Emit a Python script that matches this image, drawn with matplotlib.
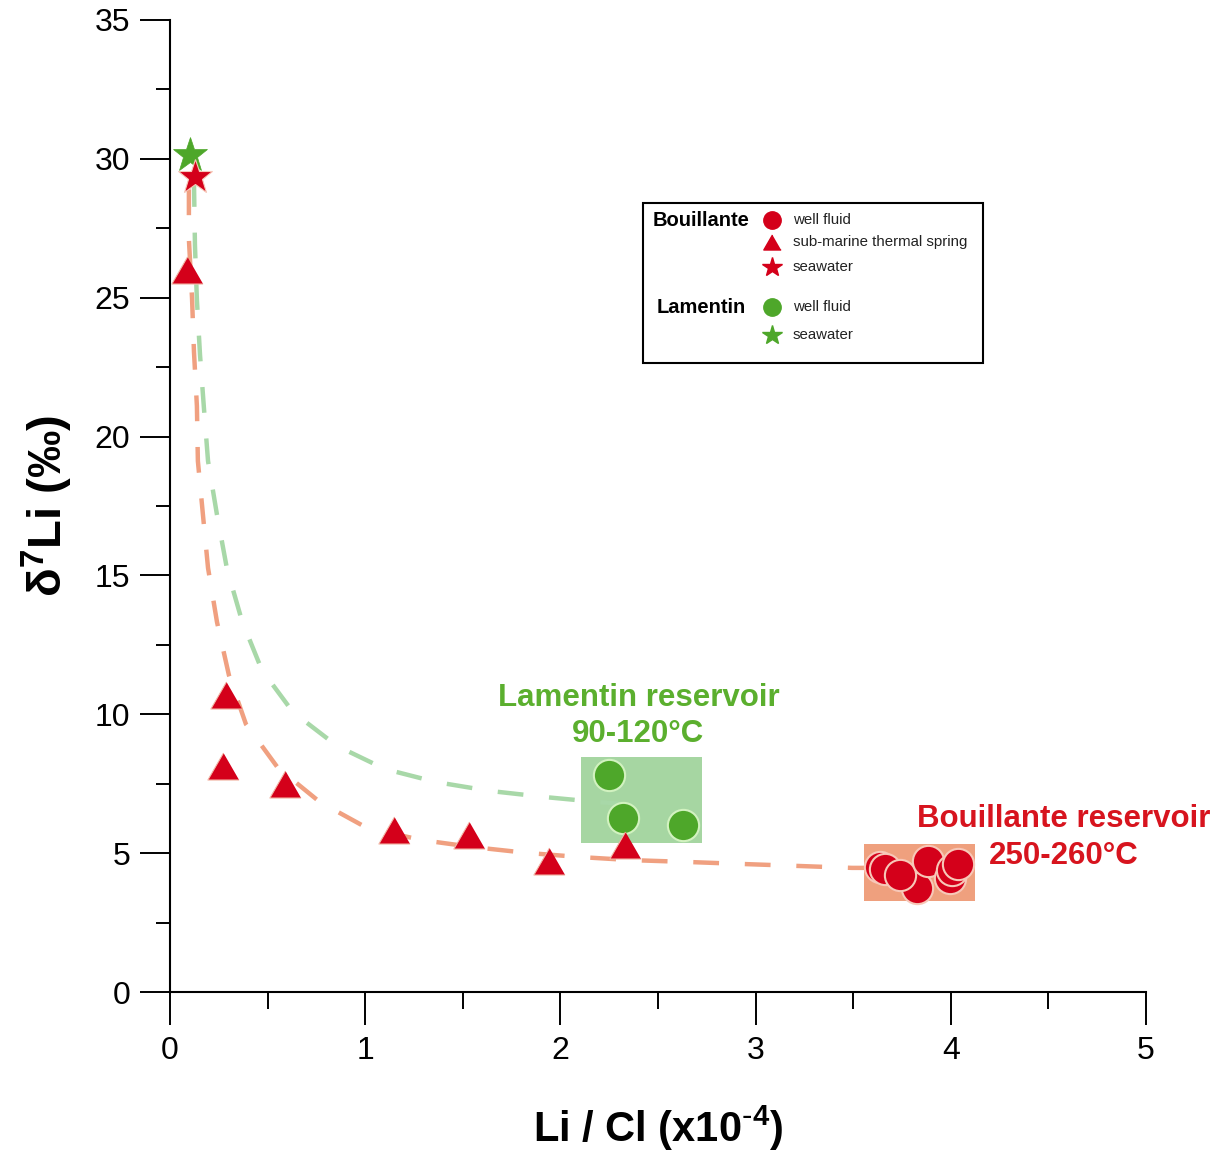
import matplotlib
matplotlib.use("Agg")
import matplotlib.pyplot as plt
from matplotlib import font_manager
from matplotlib.patches import Rectangle

# --- data ---------------------------------------------------------------
# Bouillante sub-marine thermal springs
spring_x = [0.087, 0.287, 0.27, 0.59, 1.15, 1.53, 1.94, 2.33]
spring_y = [26.0, 10.7, 8.15, 7.5, 5.85, 5.65, 4.7, 5.3]

# Bouillante well fluids (reservoir cluster)
bou_well_x = [3.637, 3.663, 3.827, 3.740, 3.883, 3.996, 4.006, 4.037]
bou_well_y = [4.50, 4.43, 3.74, 4.21, 4.72, 4.10, 4.39, 4.61]

# Lamentin well fluids
lam_well_x = [2.25, 2.32, 2.63]
lam_well_y = [7.8, 6.25, 6.0]

# seawater
bou_sea_x, bou_sea_y = [0.128], [29.35]
lam_sea_x, lam_sea_y = [0.105], [30.15]

# mixing curves (traced)
bou_mix_x = [0.097, 0.097, 0.113, 0.123, 0.138, 0.143, 0.169, 0.195, 0.241,
             0.302, 0.389, 0.553, 0.768, 1.009, 1.291, 1.552, 1.829, 2.100,
             2.362, 2.664, 2.935, 3.217, 3.494, 3.566]
bou_mix_y = [28.9, 27.1, 25.0, 23.05, 21.1, 19.12, 17.18, 15.27, 13.32,
             11.41, 9.65, 8.07, 6.84, 5.91, 5.47, 5.22, 5.01, 4.86,
             4.75, 4.68, 4.61, 4.54, 4.47, 4.47]
lam_mix_x = [0.123, 0.128, 0.138, 0.154, 0.174, 0.195, 0.241, 0.292, 0.369,
             0.471, 0.630, 0.856, 1.101, 1.363, 1.639, 1.921, 2.193, 2.413]
lam_mix_y = [29.2, 26.9, 24.92, 22.94, 21.03, 19.12, 17.18, 15.24, 13.36,
             11.59, 10.08, 8.86, 8.03, 7.56, 7.24, 7.02, 6.84, 6.73]

# reservoir boxes: (x0, x1, y0, y1)
lam_box = (2.105, 2.725, 5.37, 8.46)
bou_box = (3.555, 4.124, 3.28, 5.33)

RED = "#D4001A"
GREEN = "#4EA72A"

names = {f.name for f in font_manager.fontManager.ttflist}
narrow = "Liberation Sans Narrow" if "Liberation Sans Narrow" in names else "Liberation Sans"

plt.rcParams["font.family"] = ["Liberation Sans", "DejaVu Sans"]
plt.rcParams["mathtext.default"] = "regular"

fig = plt.figure(figsize=(12.14, 11.55), dpi=100)
ax = fig.add_axes([0.140, 0.1411, 0.804, 0.8416])

# boxes
ax.add_patch(Rectangle((lam_box[0], lam_box[2]), lam_box[1] - lam_box[0],
                       lam_box[3] - lam_box[2], facecolor="#A6D6A2",
                       edgecolor="none", zorder=1))
ax.add_patch(Rectangle((bou_box[0], bou_box[2]), bou_box[1] - bou_box[0],
                       bou_box[3] - bou_box[2], facecolor="#EFA07E",
                       edgecolor="none", zorder=1))

# mixing curves
ax.plot(lam_mix_x, lam_mix_y, color="#A8D8A8", lw=3.2, dashes=(5.8, 5.8),
        zorder=2)
ax.plot(bou_mix_x, bou_mix_y, color="#F0A080", lw=3.2, dashes=(5.8, 5.8),
        zorder=2)

tri = [(0, 0.866), (-1, -0.866), (1, -0.866)]

ax.plot(lam_well_x, lam_well_y, "o", ms=22.5, color=GREEN, mec="#D2F2C0",
        mew=1.5, zorder=3)
for x, y in zip(bou_well_x, bou_well_y):
    ax.plot(x, y, "o", ms=22.5, color=RED, mec="#F7C8B8", mew=1.5, zorder=3)
ax.plot(spring_x, spring_y, linestyle="none", marker=tri, ms=22.5, color=RED,
        mec="#F2B8A8", mew=0.8, zorder=4)
ax.plot(lam_sea_x, lam_sea_y, "*", ms=26, color=GREEN, mec=GREEN,
        mew=0.5, zorder=4)
ax.plot(bou_sea_x, bou_sea_y, "*", ms=26, color=RED, mec="#F7C8B8",
        mew=0.8, zorder=5)

# reservoir labels
ax.text(2.4, 9.94, "Lamentin reservoir\n90-120°C", color="#5BAF2E",
        fontsize=22.5, fontweight="bold", ha="center", va="center",
        linespacing=1.3)
ax.text(4.58, 5.58, "Bouillante reservoir\n250-260°C", color="#D7141E",
        fontsize=22.5, fontweight="bold", ha="center", va="center",
        linespacing=1.3, clip_on=False)

# legend drawn by hand
ax.add_patch(Rectangle((0.4846, 0.6471), 0.3484, 0.1646, transform=ax.transAxes,
                       facecolor="white", edgecolor="black", lw=1.5, zorder=6))
ax.text(0.4949, 0.7942, "Bouillante", transform=ax.transAxes, fontsize=14.5,
        fontweight="bold", va="center", zorder=7)
ax.text(0.4990, 0.7047, "Lamentin", transform=ax.transAxes, fontsize=14.5,
        fontweight="bold", va="center", zorder=7)
leg_rows = [
    (0.7942, "o", 12.5, RED, "well fluid"),
    (0.7716, tri, 12.5, RED, "sub-marine thermal spring"),
    (0.7459, "*", 15, RED, "seawater"),
    (0.7047, "o", 12.5, GREEN, "well fluid"),
    (0.6759, "*", 15, GREEN, "seawater"),
]
for ly, mk, ms, col, lab in leg_rows:
    ax.plot([0.6168], [ly], linestyle="none", marker=mk, ms=ms, color=col,
            transform=ax.transAxes, zorder=7, clip_on=False)
    ax.text(0.6383, ly, lab, transform=ax.transAxes, fontsize=10.8,
            va="center", color="#222222", zorder=7)

# axes styling
ax.set_xlim(0, 5)
ax.set_ylim(0, 35)
for side in ("top", "right"):
    ax.spines[side].set_visible(False)
for side in ("left", "bottom"):
    ax.spines[side].set_linewidth(1.5)

ax.set_xticks([0, 1, 2, 3, 4, 5])
ax.set_xticks([0.5, 1.5, 2.5, 3.5, 4.5], minor=True)
ax.set_yticks([0, 5, 10, 15, 20, 25, 30, 35])
ax.set_yticks([2.5, 7.5, 12.5, 17.5, 22.5, 27.5, 32.5], minor=True)
ax.tick_params(axis="y", which="major", length=21.5, width=1.4, pad=7,
               labelsize=23)
ax.tick_params(axis="y", which="minor", length=10, width=1.4)
ax.tick_params(axis="x", which="major", length=24, width=1.4, pad=8,
               labelsize=23)
ax.tick_params(axis="x", which="minor", length=12, width=1.4)
for lab in ax.get_xticklabels():
    lab.set_family(narrow)

ax.set_xlabel(r"Li / Cl (x10$^{\text{-}4}$)", fontsize=30, fontweight="bold",
              family=narrow, labelpad=27)
ax.set_ylabel("δ$^{7}$Li (‰)", fontsize=34, fontweight="bold", labelpad=14)

fig.savefig("out.png", dpi=100)
